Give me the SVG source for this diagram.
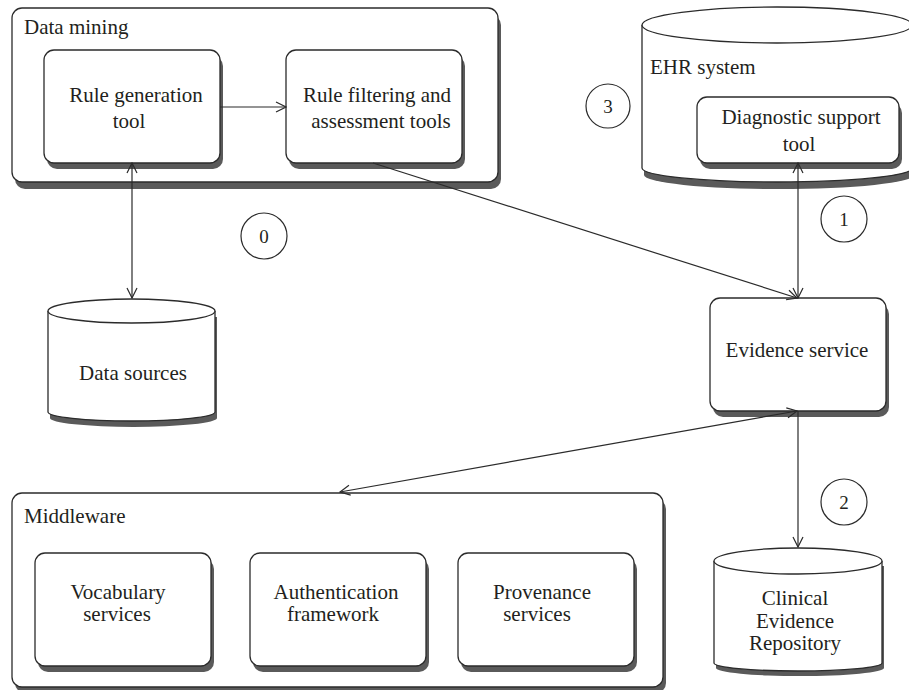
<svg xmlns="http://www.w3.org/2000/svg" width="909" height="690" viewBox="0 0 909 690">
<style>
  .box{fill:#fff;stroke:#2b2b2b;stroke-width:1.3}
  .sh{fill:#5a5a5a;stroke:none}
  .t{font-family:"Liberation Serif","Times New Roman",serif;font-size:21px;fill:#231f20}
  .c{text-anchor:middle}
  .num{font-family:"Liberation Serif","Times New Roman",serif;font-size:19px;fill:#231f20;text-anchor:middle}
  .ln{fill:none;stroke:#2b2b2b;stroke-width:1.2}
  .circ{fill:#fff;stroke:#2b2b2b;stroke-width:1.2}
</style>
<defs>
  <marker id="ah" viewBox="0 0 12 12" refX="11" refY="6" markerWidth="12" markerHeight="12" markerUnits="userSpaceOnUse" orient="auto-start-reverse">
    <path d="M1,1 L11,6 L1,11" fill="none" stroke="#2b2b2b" stroke-width="1.2"/>
  </marker>
</defs>
<rect width="909" height="690" fill="#fff"/>

<g id="data-mining">
  <rect class="sh" x="15" y="15" width="486" height="174" rx="10"/>
  <rect class="box" x="12" y="8" width="486" height="174" rx="10"/>
  <text class="t" x="24" y="34">Data mining</text>
</g>
<g id="rule-generation-tool">
  <rect class="sh" x="47" y="56" width="176" height="113" rx="10"/>
  <rect class="box" x="44" y="50" width="176" height="113" rx="10"/>
  <text class="t c" x="136" y="102">Rule generation</text>
  <text class="t c" x="129" y="128">tool</text>
</g>
<g id="rule-filtering">
  <rect class="sh" x="289" y="56" width="176" height="113" rx="10"/>
  <rect class="box" x="286" y="50" width="176" height="113" rx="10"/>
  <text class="t c" x="377" y="102">Rule filtering and</text>
  <text class="t c" x="381" y="128">assessment tools</text>
</g>

<g id="ehr-system">
  <path class="sh" d="M644,32 V175 A135,14 0 0 0 914,175 V32 Z"/>
  <path class="box" d="M642,25 V168 A135,14 0 0 0 912,168 V25"/>
  <ellipse class="box" cx="777" cy="25" rx="135" ry="18"/>
  <text class="t" x="650" y="74">EHR system</text>
</g>
<g id="diagnostic-support-tool">
  <rect class="sh" x="700" y="103" width="202" height="66" rx="10"/>
  <rect class="box" x="697" y="97" width="202" height="66" rx="10"/>
  <text class="t c" x="801" y="124">Diagnostic support</text>
  <text class="t c" x="799" y="151">tool</text>
</g>

<g id="data-sources">
  <path class="sh" d="M50,317 V418 A83.5,9 0 0 0 217,418 V317 Z"/>
  <path class="box" d="M48,311 V412 A83.5,9 0 0 0 215,412 V311"/>
  <ellipse class="box" cx="131.5" cy="311" rx="83.5" ry="12"/>
  <text class="t c" x="133" y="380">Data sources</text>
</g>

<g id="evidence-service">
  <rect class="sh" x="713" y="304" width="176" height="113" rx="10"/>
  <rect class="box" x="710" y="298" width="176" height="113" rx="10"/>
  <text class="t c" x="797" y="357">Evidence service</text>
</g>

<g id="middleware">
  <rect class="sh" x="15" y="499" width="651" height="194" rx="10"/>
  <rect class="box" x="12" y="493" width="651" height="194" rx="10"/>
  <text class="t" x="24" y="523">Middleware</text>
</g>
<g id="vocabulary-services">
  <rect class="sh" x="38" y="559" width="176" height="113" rx="10"/>
  <rect class="box" x="35" y="553" width="176" height="113" rx="10"/>
  <text class="t c" x="118" y="599">Vocabulary</text>
  <text class="t c" x="117" y="621">services</text>
</g>
<g id="authentication-framework">
  <rect class="sh" x="253" y="559" width="176" height="113" rx="10"/>
  <rect class="box" x="250" y="553" width="176" height="113" rx="10"/>
  <text class="t c" x="336" y="599">Authentication</text>
  <text class="t c" x="333" y="621">framework</text>
</g>
<g id="provenance-services">
  <rect class="sh" x="461" y="559" width="176" height="113" rx="10"/>
  <rect class="box" x="458" y="553" width="176" height="113" rx="10"/>
  <text class="t c" x="542" y="599">Provenance</text>
  <text class="t c" x="537" y="621">services</text>
</g>

<g id="clinical-evidence-repository">
  <path class="sh" d="M716,566 V668 A84,8 0 0 0 884,668 V566 Z"/>
  <path class="box" d="M714,561 V663 A84,8 0 0 0 882,663 V561"/>
  <ellipse class="box" cx="798" cy="561" rx="84" ry="13"/>
  <text class="t c" x="795" y="605">Clinical</text>
  <text class="t c" x="795" y="628">Evidence</text>
  <text class="t c" x="795" y="650">Repository</text>
</g>

<g id="labels">
  <g id="step-0"><circle class="circ" cx="264" cy="236" r="23"/><text class="num" x="264" y="243">0</text></g>
  <g id="step-1"><circle class="circ" cx="844" cy="219" r="23"/><text class="num" x="844" y="226">1</text></g>
  <g id="step-2"><circle class="circ" cx="844" cy="502" r="23"/><text class="num" x="844" y="509">2</text></g>
  <g id="step-3"><circle class="circ" cx="608" cy="106" r="22"/><text class="num" x="608" y="113">3</text></g>
</g>

<g id="connectors">
  <line class="ln" x1="220" y1="107" x2="286" y2="107" marker-end="url(#ah)"/>
  <line class="ln" x1="132" y1="163" x2="132" y2="298" marker-start="url(#ah)" marker-end="url(#ah)"/>
  <line class="ln" x1="373" y1="163" x2="797" y2="298" marker-end="url(#ah)"/>
  <line class="ln" x1="798" y1="163" x2="798" y2="298" marker-start="url(#ah)" marker-end="url(#ah)"/>
  <line class="ln" x1="797" y1="411" x2="340" y2="492" marker-start="url(#ah)" marker-end="url(#ah)"/>
  <line class="ln" x1="798" y1="411" x2="798" y2="547" marker-end="url(#ah)"/>
</g>
</svg>
